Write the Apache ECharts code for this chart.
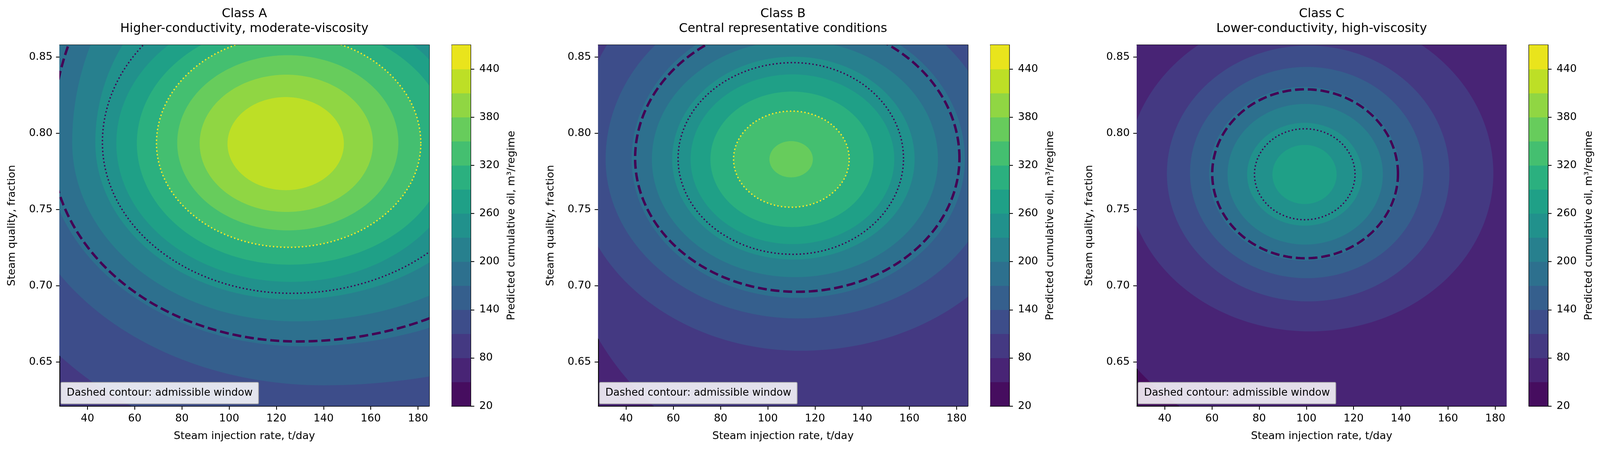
<!DOCTYPE html>
<html>
<head>
<meta charset="utf-8">
<script src="https://cdn.jsdelivr.net/npm/echarts@6/dist/echarts.min.js"></script>
<style>
  html, body { margin: 0; padding: 0; background: #ffffff; overflow: hidden; }
  #chart { width: 100vw; height: 100vh; }
</style>
</head>
<body>
<div id="chart"></div>
<script>
// ---------------- DATA ----------------
const classNames = ['Class A', 'Class B', 'Class C'];
const classSubtitles = ['Higher-conductivity, moderate-viscosity', 'Central representative conditions', 'Lower-conductivity, high-viscosity'];

// filled-contour levels (colorbar boundaries) and colorbar tick labels
const levels = [20, 50, 80, 110, 140, 170, 200, 230, 260, 290, 320, 350, 380, 410, 440, 470];
const colorbarTicks = [20, 80, 140, 200, 260, 320, 380, 440];

// axis ranges and ticks
const xRange = [28.2, 184.7];
const yRange = [0.621, 0.858];
const xTicks = [40, 60, 80, 100, 120, 140, 160, 180];
const yTicks = [0.65, 0.70, 0.75, 0.80, 0.85];

// lowest band present in each panel (band lower bound)
const baseLevels = [80, 50, 20];

// contour boundaries: [level, cx, cy, xLeft, xRight, yBottom, yTop]
// (extreme points of each closed contour; values beyond the axes are estimates)
const contoursA = [
  [110, 145.0, 0.790, -13.0, 335.0, 0.588, 1.000],
  [140, 140.0, 0.790, 8.0, 305.0, 0.6346, 0.990],
  [170, 131.0, 0.793, 22.0, 260.0, 0.6602, 0.990],
  [200, 128.0, 0.794, 33.5, 238.0, 0.6766, 0.955],
  [230, 126.4, 0.794, 43.3, 217.0, 0.6910, 0.920],
  [260, 126.1, 0.7935, 52.2, 200.0, 0.7025, 0.884],
  [290, 125.6, 0.7935, 60.9, 193.0, 0.7138, 0.8726],
  [320, 125.2, 0.7935, 69.2, 181.2, 0.7252, 0.864],
  [350, 124.85, 0.7938, 78.0, 171.7, 0.7363, 0.8513],
  [380, 124.2, 0.7934, 87.5, 160.9, 0.7484, 0.8385],
  [410, 123.95, 0.7932, 99.3, 148.6, 0.7627, 0.8238]
];
const contoursB = [
  [80, 118.0, 0.770, 10.1, 240.0, 0.581, 1.000],
  [110, 114.0, 0.781, 18.0, 215.0, 0.6573, 0.930],
  [140, 113.0, 0.783, 31.3, 197.0, 0.6785, 0.895],
  [170, 112.5, 0.783, 42.3, 183.5, 0.6920, 0.878],
  [200, 111.5, 0.783, 50.9, 172.1, 0.7056, 0.861],
  [230, 110.85, 0.783, 59.5, 162.2, 0.7172, 0.8503],
  [260, 110.45, 0.783, 67.3, 153.6, 0.7273, 0.8387],
  [290, 110.25, 0.783, 75.7, 144.8, 0.7385, 0.8274],
  [320, 110.0, 0.7831, 85.5, 134.5, 0.7515, 0.8146],
  [350, 109.9, 0.783, 100.7, 119.1, 0.7711, 0.7949]
];
const contoursC = [
  [50, 102.0, 0.774, -2.7, 262.0, 0.593, 0.974],
  [80, 101.5, 0.7737, 23.8, 179.2, 0.670, 0.880],
  [110, 100.75, 0.7737, 40.9, 160.6, 0.6897, 0.8576],
  [140, 100.15, 0.7742, 50.7, 149.6, 0.7049, 0.8436],
  [170, 99.2, 0.7735, 58.8, 139.6, 0.7165, 0.8305],
  [200, 99.5, 0.7731, 66.6, 132.4, 0.7270, 0.8193],
  [230, 99.25, 0.7731, 74.9, 123.6, 0.7394, 0.8069],
  [260, 99.35, 0.7730, 85.6, 112.8, 0.7536, 0.7924]
];

// overlaid contour lines: [cx, cy, xLeft, xRight, yBottom, yTop]
const dashedWindow = [
  [129.0, 0.793, 24.7, 248.0, 0.6634, 0.971],
  [112.5, 0.7837, 43.8, 181.2, 0.6960, 0.8737],
  [99.5, 0.7735, 60.1, 138.8, 0.7180, 0.8289]
];
const dottedDark = [
  [126.3, 0.794, 46.3, 211.3, 0.6950, 0.897],
  [110.7, 0.7835, 62.0, 157.5, 0.7206, 0.8464],
  [99.3, 0.7731, 78.0, 120.6, 0.7433, 0.8030]
];
const dottedYellow = [
  [125.2, 0.7935, 69.2, 181.2, 0.7252, 0.864],
  [110.0, 0.7831, 85.5, 134.5, 0.7515, 0.8146],
  null
];

// ---------------- STYLE / LAYOUT ----------------
const DESIGN_W = 4236, DESIGN_H = 1197;
const S = Math.min((window.innerWidth || DESIGN_W) / DESIGN_W, (window.innerHeight || DESIGN_H) / DESIGN_H);
const px = v => v * S;

const FONT = 'DejaVu Sans';
const PANEL_LEFT = [158, 1584, 3010];
const PANEL_TOP = 119, PANEL_W = 978, PANEL_H = 955;
const CB_GAP = 60, CB_W = 50;
const LW = 2.2;

const viridisStops = ['#440154','#471365','#482475','#463480','#414487','#3b528b','#355f8d','#2f6c8e','#2a788e','#25848e','#21918c','#1e9c89','#22a884','#2fb47c','#44bf70','#5ec962','#7ad151','#9bd93c','#bddf26','#dfe318','#fde725'];
function hexToRgb(h) { return [parseInt(h.substr(1,2),16), parseInt(h.substr(3,2),16), parseInt(h.substr(5,2),16)]; }
function viridis(t) {
  const n = viridisStops.length - 1;
  const f = Math.max(0, Math.min(1, t)) * n;
  const i = Math.min(n - 1, Math.floor(f));
  const r = f - i;
  const a = hexToRgb(viridisStops[i]), b = hexToRgb(viridisStops[i + 1]);
  const c = a.map((v, k) => Math.round(v + (b[k] - v) * r));
  return 'rgb(' + c.join(',') + ')';
}
function bandColor(lowLevel) {
  let k = 0;
  for (let i = 0; i < levels.length - 1; i++) { if (Math.abs(levels[i] - lowLevel) < 1e-6) k = i; }
  return viridis((k + 0.5) / (levels.length - 1));
}

function contourPoints(api, v) { // v = [cx, cy, xL, xR, yB, yT]
  const pts = [];
  const N = 240;
  for (let i = 0; i < N; i++) {
    const t = 2 * Math.PI * i / N, c = Math.cos(t), s = Math.sin(t);
    const x = v[0] + (c >= 0 ? (v[3] - v[0]) : (v[0] - v[2])) * c;
    const y = v[1] + (s >= 0 ? (v[5] - v[1]) : (v[1] - v[4])) * s;
    pts.push(api.coord([x, y]));
  }
  return pts;
}

function fillRender(params, api) {
  const level = api.value(0);
  const v = [api.value(1), api.value(2), api.value(3), api.value(4), api.value(5), api.value(6)];
  return { type: 'polygon', z2: level, shape: { points: contourPoints(api, v) }, style: { fill: bandColor(level) } };
}
function lineRender(style) {
  return function (params, api) {
    const v = [api.value(0), api.value(1), api.value(2), api.value(3), api.value(4), api.value(5)];
    const pts = contourPoints(api, v);
    pts.push(pts[0]);
    return { type: 'polyline', shape: { points: pts }, style: Object.assign({ fill: null }, style) };
  };
}
function colorbarRender(params, api) {
  const lo = api.value(0), hi = api.value(1);
  const p0 = api.coord([0, lo]), p1 = api.coord([1, hi]);
  return { type: 'rect', shape: { x: p0[0], y: p1[1] - 0.5, width: p1[0] - p0[0], height: p0[1] - p1[1] + 1 }, style: { fill: bandColor(lo) } };
}

const textBase = { fontFamily: FONT, color: '#000', fontSize: px(28) };
const grids = [], xAxes = [], yAxes = [], series = [], titles = [];
const contourSets = [contoursA, contoursB, contoursC];
const lineOnly = { show: true, onZero: false, lineStyle: { color: '#000', width: px(LW) } };
const tickStyle = { show: true, inside: false, length: px(9.7), lineStyle: { color: '#000', width: px(LW) } };

for (let p = 0; p < 3; p++) {
  const gi = grids.length;
  grids.push({ left: px(PANEL_LEFT[p]), top: px(PANEL_TOP), width: px(PANEL_W), height: px(PANEL_H), show: true, backgroundColor: bandColor(baseLevels[p]), borderWidth: 0 });
  const xi = xAxes.length;
  xAxes.push({
    type: 'value', gridIndex: gi, position: 'bottom', min: xRange[0], max: xRange[1],
    axisLine: lineOnly,
    axisTick: Object.assign({ customValues: xTicks }, tickStyle),
    axisLabel: { show: true, customValues: xTicks, margin: px(20), fontFamily: FONT, fontSize: px(28), color: '#000' },
    splitLine: { show: false },
    name: 'Steam injection rate, t/day', nameLocation: 'middle', nameGap: px(66), nameTextStyle: textBase
  });
  xAxes.push({ type: 'value', gridIndex: gi, position: 'top', min: xRange[0], max: xRange[1], axisLine: lineOnly, axisTick: { show: false }, axisLabel: { show: false }, splitLine: { show: false } });
  const yi = yAxes.length;
  yAxes.push({
    type: 'value', gridIndex: gi, position: 'left', min: yRange[0], max: yRange[1],
    axisLine: lineOnly,
    axisTick: Object.assign({ customValues: yTicks }, tickStyle),
    axisLabel: { show: true, customValues: yTicks, margin: px(19), fontFamily: FONT, fontSize: px(28), color: '#000', formatter: v => v.toFixed(2) },
    splitLine: { show: false },
    name: 'Steam quality, fraction', nameLocation: 'middle', nameGap: px(112), nameRotate: 90, nameTextStyle: textBase
  });
  yAxes.push({ type: 'value', gridIndex: gi, position: 'right', min: yRange[0], max: yRange[1], axisLine: lineOnly, axisTick: { show: false }, axisLabel: { show: false }, splitLine: { show: false } });

  series.push({ type: 'custom', xAxisIndex: xi, yAxisIndex: yi, clip: true, silent: true, renderItem: fillRender, encode: { x: 1, y: 2 }, data: contourSets[p] });
  series.push({ type: 'custom', xAxisIndex: xi, yAxisIndex: yi, clip: true, silent: true, z: 3, encode: { x: 0, y: 1 },
    renderItem: lineRender({ stroke: '#440154', lineWidth: px(6.4), lineDash: [px(23.6), px(10.2)] }), data: [dashedWindow[p]] });
  series.push({ type: 'custom', xAxisIndex: xi, yAxisIndex: yi, clip: true, silent: true, z: 3, encode: { x: 0, y: 1 },
    renderItem: lineRender({ stroke: '#440154', lineWidth: px(3.6), lineDash: [px(3.6), px(6.0)] }), data: [dottedDark[p]] });
  if (dottedYellow[p]) {
    series.push({ type: 'custom', xAxisIndex: xi, yAxisIndex: yi, clip: true, silent: true, z: 3, encode: { x: 0, y: 1 },
      renderItem: lineRender({ stroke: '#fde725', lineWidth: px(3.6), lineDash: [px(3.6), px(6.0)] }), data: [dottedYellow[p]] });
  }

  // colorbar
  const cgi = grids.length;
  grids.push({ left: px(PANEL_LEFT[p] + PANEL_W + CB_GAP), top: px(PANEL_TOP), width: px(CB_W), height: px(PANEL_H) });
  const cxi = xAxes.length;
  xAxes.push({ type: 'value', gridIndex: cgi, position: 'bottom', min: 0, max: 1, axisLine: lineOnly, axisTick: { show: false }, axisLabel: { show: false }, splitLine: { show: false } });
  xAxes.push({ type: 'value', gridIndex: cgi, position: 'top', min: 0, max: 1, axisLine: lineOnly, axisTick: { show: false }, axisLabel: { show: false }, splitLine: { show: false } });
  const cyi = yAxes.length;
  yAxes.push({
    type: 'value', gridIndex: cgi, position: 'right', min: levels[0], max: levels[levels.length - 1],
    axisLine: lineOnly,
    axisTick: Object.assign({ customValues: colorbarTicks }, tickStyle),
    axisLabel: { show: true, customValues: colorbarTicks, margin: px(23), fontFamily: FONT, fontSize: px(28), color: '#000' },
    splitLine: { show: false },
    name: 'Predicted cumulative oil, m\u00b3/regime', nameLocation: 'middle', nameGap: px(95), nameRotate: 90, nameTextStyle: textBase
  });
  yAxes.push({ type: 'value', gridIndex: cgi, position: 'left', min: levels[0], max: levels[levels.length - 1], axisLine: lineOnly, axisTick: { show: false }, axisLabel: { show: false }, splitLine: { show: false } });
  series.push({ type: 'custom', xAxisIndex: cxi, yAxisIndex: cyi, clip: true, silent: true, renderItem: colorbarRender, encode: { x: 0, y: 1 },
    data: levels.slice(0, -1).map((lo, i) => [lo, levels[i + 1]]) });

  titles.push({
    text: classNames[p] + '\n' + classSubtitles[p], left: px(PANEL_LEFT[p] + PANEL_W / 2), top: px(17), textAlign: 'center', padding: 0,
    textStyle: { fontFamily: FONT, fontSize: px(33), fontWeight: 'normal', color: '#000', lineHeight: px(39.6) }
  });
  titles.push({
    text: 'Dashed contour: admissible window', left: px(PANEL_LEFT[p] + 2.7), top: px(1010.7), padding: [px(12), px(16)],
    backgroundColor: 'rgba(255,255,255,0.85)', borderColor: 'rgba(165,165,165,0.95)', borderWidth: px(2), borderRadius: px(3),
    textStyle: { fontFamily: FONT, fontSize: px(27.3), fontWeight: 'normal', color: '#000', lineHeight: px(33.6) }
  });
}

const chart = echarts.init(document.getElementById('chart'), null, { renderer: 'canvas' });
chart.setOption({
  backgroundColor: '#ffffff',
  animation: false,
  title: titles,
  grid: grids,
  xAxis: xAxes,
  yAxis: yAxes,
  series: series
});
</script>
</body>
</html>
